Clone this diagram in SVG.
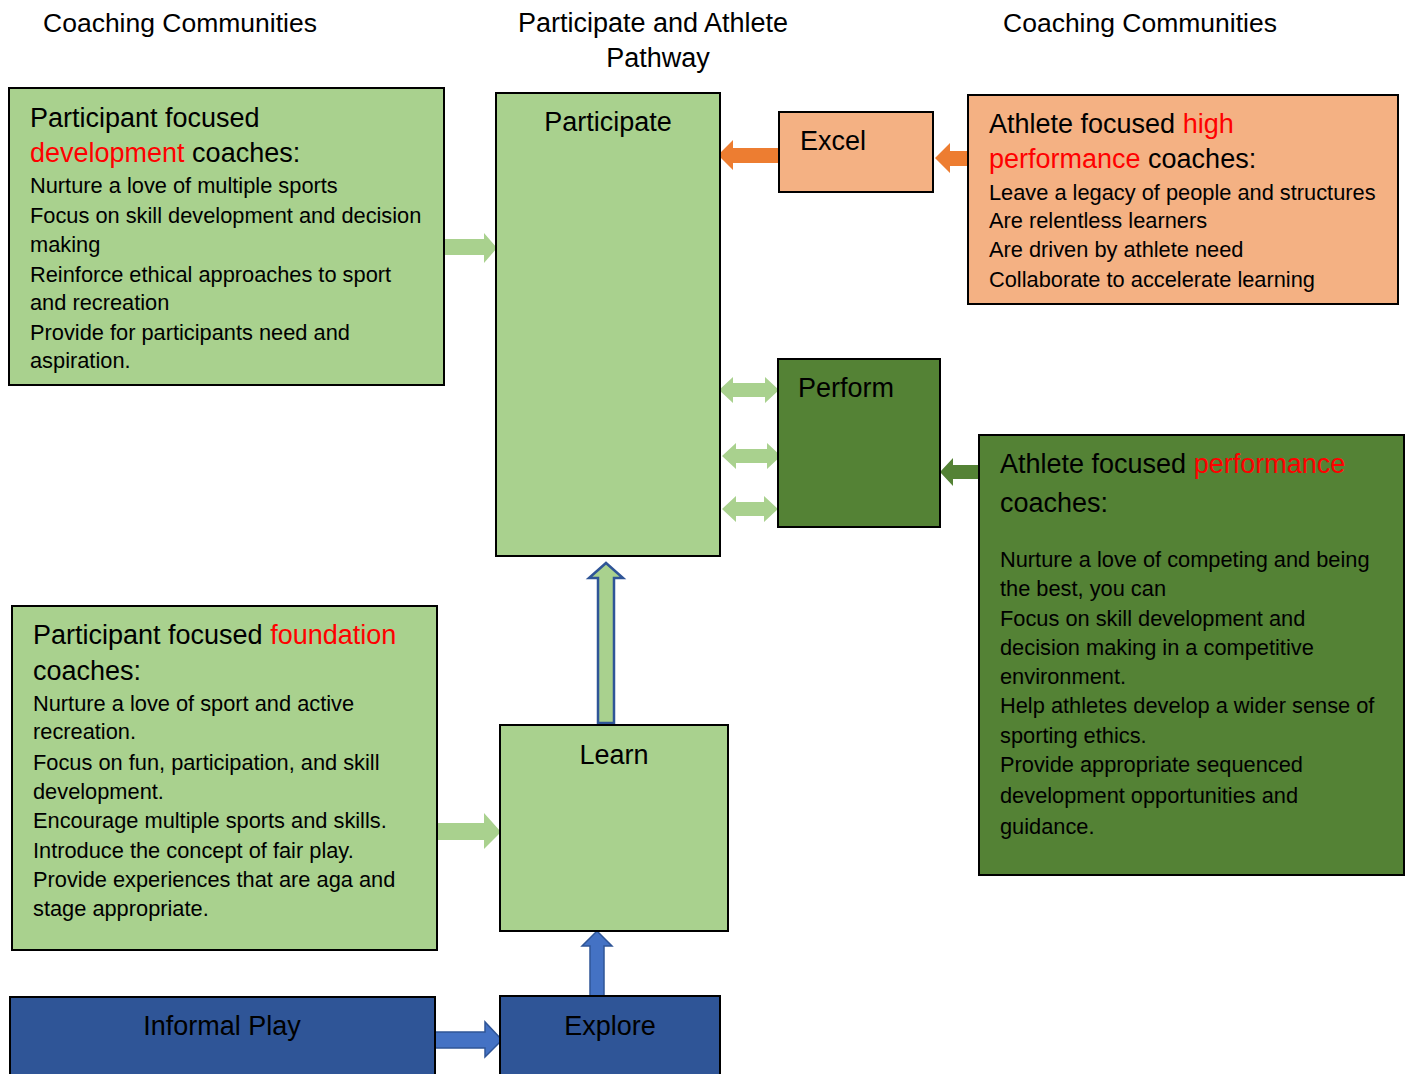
<svg xmlns="http://www.w3.org/2000/svg" width="1411" height="1074" viewBox="0 0 1411 1074">
<style>
text{font-family:"Liberation Sans",Arial,sans-serif;fill:#000}
.h{font-size:27px}
.t{font-size:26.5px}
.b{font-size:21.8px}
.red{fill:#FF0000}
.box{stroke:#000;stroke-width:2}
.lg{fill:#A9D18E}
.or{fill:#F4B183}
.dg{fill:#548235}
.bl{fill:#2F5597}
.a-lg{fill:#A9D18E}
.a-or{fill:#ED7D31}
.a-dg{fill:#548235}
.a-bl{fill:#4472C4;stroke:#2F5597;stroke-width:1.5}
.a-up{fill:#A9D18E;stroke:#2F5597;stroke-width:2.5}
</style>
<rect width="1411" height="1074" fill="#fff"/>
<g id="headers">
<text class="t" x="180" y="32" text-anchor="middle">Coaching Communities</text>
<text class="h" x="653" y="32" text-anchor="middle">Participate and Athlete</text>
<text class="h" x="658" y="67" text-anchor="middle">Pathway</text>
<text class="t" x="1140" y="32" text-anchor="middle">Coaching Communities</text>
</g>
<g id="connectors">
<polygon class="a-lg" points="444,239 484,239 484,233 497,248 484,263 484,255 444,255"/>
<polygon class="a-lg" points="437,823 484,823 484,813 501,832 484,849 484,840 437,840"/>
<polygon class="a-or" points="779,148 733,148 733,140 718,155 733,170 733,163 779,163"/>
<polygon class="a-or" points="968,151 950,151 950,143 935,158 950,173 950,166 968,166"/>
<polygon class="a-lg" points="719,390 733,377 733,383 765,383 765,377 779,390 765,403 765,397 733,397 733,403"/>
<polygon class="a-lg" points="722,456 736,443 736,449 767,449 767,443 781,456 767,469 767,463 736,463 736,469"/>
<polygon class="a-lg" points="722,509 736,496 736,502 764,502 764,496 778,509 764,522 764,516 736,516 736,522"/>
<polygon class="a-dg" points="979,465 953,465 953,458 940,472 953,486 953,479 979,479"/>
<polygon class="a-up" points="598,723 598,578 589,578 606,563 623,578 614,578 614,723"/>
<polygon class="a-bl" points="590,996 590,946 582,946 597,931 612,946 604,946 604,996"/>
<polygon class="a-bl" points="435,1032 485,1032 485,1022 502,1040 485,1057 485,1048 435,1048"/>
</g>
<g id="dev-coaches">
<rect class="box lg" x="9" y="88" width="435" height="297"/>
<text class="h" x="30" y="127">Participant focused</text>
<text class="h" x="30" y="162"><tspan class="red">development</tspan> coaches:</text>
<text class="b" x="30" y="193">Nurture a love of multiple sports</text>
<text class="b" x="30" y="223">Focus on skill development and decision</text>
<text class="b" x="30" y="252">making</text>
<text class="b" x="30" y="282">Reinforce ethical approaches to sport</text>
<text class="b" x="30" y="310">and recreation</text>
<text class="b" x="30" y="340">Provide for participants need and</text>
<text class="b" x="30" y="368">aspiration.</text>
</g>
<g id="participate">
<rect class="box lg" x="496" y="93" width="224" height="463"/>
<text class="h" x="608" y="131" text-anchor="middle">Participate</text>
</g>
<g id="excel">
<rect class="box or" x="779" y="112" width="154" height="80"/>
<text class="h" x="800" y="150">Excel</text>
</g>
<g id="hp-coaches">
<rect class="box or" x="968" y="95" width="430" height="209"/>
<text class="h" x="989" y="133">Athlete focused <tspan class="red">high</tspan></text>
<text class="h" x="989" y="168"><tspan class="red">performance</tspan> coaches:</text>
<text class="b" x="989" y="200">Leave a legacy of people and structures</text>
<text class="b" x="989" y="228">Are relentless learners</text>
<text class="b" x="989" y="257">Are driven by athlete need</text>
<text class="b" x="989" y="287">Collaborate to accelerate learning</text>
</g>
<g id="perform">
<rect class="box dg" x="778" y="359" width="162" height="168"/>
<text class="h" x="798" y="397">Perform</text>
</g>
<g id="perf-coaches">
<rect class="box dg" x="979" y="435" width="425" height="440"/>
<text class="h" x="1000" y="473">Athlete focused <tspan class="red">performance</tspan></text>
<text class="h" x="1000" y="512">coaches:</text>
<text class="b" x="1000" y="567">Nurture a love of competing and being</text>
<text class="b" x="1000" y="596">the best, you can</text>
<text class="b" x="1000" y="626">Focus on skill development and</text>
<text class="b" x="1000" y="655">decision making in a competitive</text>
<text class="b" x="1000" y="684">environment.</text>
<text class="b" x="1000" y="713">Help athletes develop a wider sense of</text>
<text class="b" x="1000" y="743">sporting ethics.</text>
<text class="b" x="1000" y="772">Provide appropriate sequenced</text>
<text class="b" x="1000" y="803">development opportunities and</text>
<text class="b" x="1000" y="834">guidance.</text>
</g>
<g id="found-coaches">
<rect class="box lg" x="12" y="606" width="425" height="344"/>
<text class="h" x="33" y="644">Participant focused <tspan class="red">foundation</tspan></text>
<text class="h" x="33" y="680">coaches:</text>
<text class="b" x="33" y="711">Nurture a love of sport and active</text>
<text class="b" x="33" y="739">recreation.</text>
<text class="b" x="33" y="770">Focus on fun, participation, and skill</text>
<text class="b" x="33" y="799">development.</text>
<text class="b" x="33" y="828">Encourage multiple sports and skills.</text>
<text class="b" x="33" y="858">Introduce the concept of fair play.</text>
<text class="b" x="33" y="887">Provide experiences that are aga and</text>
<text class="b" x="33" y="916">stage appropriate.</text>
</g>
<g id="learn">
<rect class="box lg" x="500" y="725" width="228" height="206"/>
<text class="h" x="614" y="764" text-anchor="middle">Learn</text>
</g>
<g id="informal-play">
<rect class="box bl" x="10" y="997" width="425" height="90"/>
<text class="h" x="222" y="1035" text-anchor="middle">Informal Play</text>
</g>
<g id="explore">
<rect class="box bl" x="500" y="996" width="220" height="90"/>
<text class="h" x="610" y="1035" text-anchor="middle">Explore</text>
</g>
</svg>
